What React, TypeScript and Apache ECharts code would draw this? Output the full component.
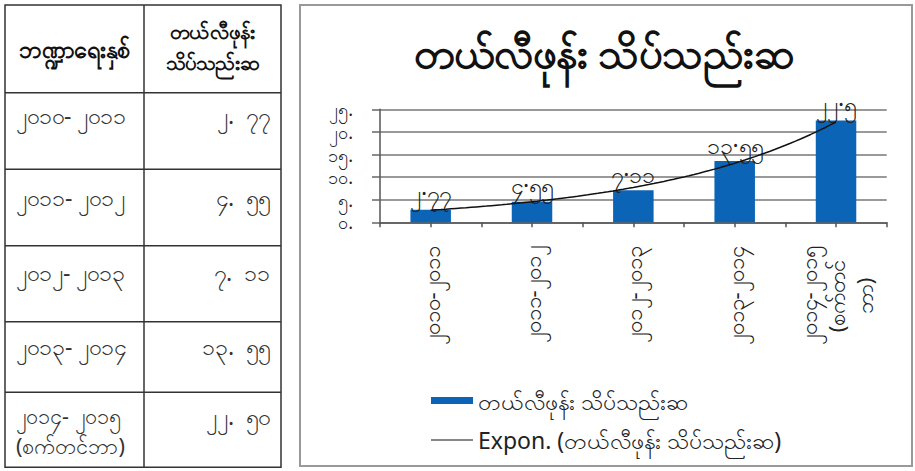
import React, { useEffect, useRef } from "react";
import * as echarts from "echarts";

const categories = [
  "၂၀၁၀-၂၀၁၁",
  "၂၀၁၁-၂၀၁၂",
  "၂၀၁၂-၂၀၁၃",
  "၂၀၁၃-၂၀၁၄",
  "၂၀၁၄-၂၀၁၅\n(စက်တင်ဘာ)",
];
const densityValues = [2.77, 4.55, 7.11, 13.55, 22.5];
const seriesName = "တယ်လီဖုန်း သိပ်သည်းဆ";
const trendName = "Expon. (တယ်လီဖုန်း သိပ်သည်းဆ)";
const chartTitle = "တယ်လီဖုန်း သိပ်သည်းဆ";
const tableHeaders = ["ဘဏ္ဍာရေးနှစ်", "တယ်လီဖုန်း\nသိပ်သည်းဆ"];

const MY_DIGITS = "၀၁၂၃၄၅၆၇၈၉";
const toMy = (s: string) => s.replace(/[0-9]/g, (d) => MY_DIGITS[+d]);

function expFit(vals: number[]) {
  const n = vals.length;
  const xs = vals.map((_, i) => i + 1);
  const ly = vals.map((v) => Math.log(v));
  const mx = xs.reduce((a, b) => a + b, 0) / n;
  const my = ly.reduce((a, b) => a + b, 0) / n;
  let sxy = 0, sxx = 0;
  for (let i = 0; i < n; i++) {
    sxy += (xs[i] - mx) * (ly[i] - my);
    sxx += (xs[i] - mx) * (xs[i] - mx);
  }
  const b = sxy / sxx;
  const a = my - b * mx;
  const pts: number[][] = [];
  for (let k = 0; k <= 80; k++) {
    const x = 1 + ((n - 1) * k) / 80;
    pts.push([x, Math.exp(a + b * x)]);
  }
  return pts;
}

const FONT = "'Noto Sans', sans-serif";

// axis label: Excel wrapped the long month part onto a third, centred line
function axisLabelText(c: string) {
  if (c.indexOf("\n") < 0) return c;
  const [first, second] = c.split("\n");
  const cut = second.indexOf("ဘာ");
  const parts = cut > 0 ? [first, second.slice(0, cut), second.slice(cut)] : [first, second];
  return parts.map((p) => `{c|${p}}`).join("\n");
}

export default function App() {
  const ref = useRef<HTMLDivElement>(null);
  useEffect(() => {
    if (!ref.current) return;
    const chart = echarts.init(ref.current, undefined, { renderer: "svg" });

    const colX = [5, 144, 281];
    const rowY = [5, 92.7, 169.3, 245.7, 321.7, 392.3, 467.3];
    const textY = [114.5, 196.5, 272, 346, 415.5];
    const lineColor = "#333";
    const tableEls: any[] = [];
    tableEls.push({
      type: "rect",
      shape: { x: colX[0], y: rowY[0], width: colX[2] - colX[0], height: rowY[6] - rowY[0] },
      style: { fill: "#fff", stroke: lineColor, lineWidth: 1.5 },
      silent: true,
    });
    tableEls.push({
      type: "line",
      shape: { x1: colX[1], y1: rowY[0], x2: colX[1], y2: rowY[6] },
      style: { stroke: lineColor, lineWidth: 1.5 },
      silent: true,
    });
    for (let i = 1; i < rowY.length - 1; i++) {
      tableEls.push({
        type: "line",
        shape: { x1: colX[0], y1: rowY[i], x2: colX[2], y2: rowY[i] },
        style: { stroke: lineColor, lineWidth: 1.5 },
        silent: true,
      });
    }
    tableEls.push({
      type: "text",
      x: (colX[0] + colX[1]) / 2,
      y: 49,
      style: {
        text: tableHeaders[0],
        fill: "#111",
        font: `bold 23.5px ${FONT}`,
        align: "center",
        verticalAlign: "middle",
      },
    });
    tableEls.push({
      type: "text",
      x: (colX[1] + colX[2]) / 2,
      y: 46,
      style: {
        text: tableHeaders[1],
        fill: "#111",
        font: `bold 20.5px ${FONT}`,
        align: "center",
        verticalAlign: "middle",
        lineHeight: 31,
      },
    });
    categories.forEach((c, i) => {
      const lines = c.split("\n");
      lines.forEach((ln, j) => {
        const small = lines.length > 1;
        tableEls.push({
          type: "text",
          x: 16,
          y: textY[i] + j * 29.5,
          style: {
            text: ln.replace("-", "- "),
            fill: "#333",
            font: `${small ? 21.5 : 23}px ${FONT}`,
            align: "left",
            verticalAlign: "middle",
          },
        });
      });
      tableEls.push({
        type: "text",
        x: 270,
        y: textY[i],
        style: {
          text: toMy(densityValues[i].toFixed(2)).replace(".", ".  "),
          fill: "#333",
          font: `23px ${FONT}`,
          align: "right",
          verticalAlign: "middle",
        },
      });
    });

    const chartBox = {
      type: "rect",
      shape: { x: 300, y: 5, width: 612, height: 461 },
      style: { fill: "#fff", stroke: "#999", lineWidth: 2 },
      silent: true,
      z: -10,
    };

    chart.setOption({
      animation: false,
      backgroundColor: "#fff",
      title: {
        text: chartTitle,
        left: 604,
        top: 51,
        textAlign: "center",
        textVerticalAlign: "middle",
        padding: 0,
        textStyle: { fontFamily: FONT, fontSize: 42, fontWeight: "bold", color: "#111" },
      },
      graphic: [chartBox, ...tableEls],
      legend: {
        orient: "vertical",
        left: 431,
        top: 388.5,
        padding: 0,
        itemWidth: 42,
        itemHeight: 7,
        itemGap: 15.5,
        textStyle: { fontFamily: FONT, fontSize: 23, color: "#222", lineHeight: 24 },
        data: [
          { name: seriesName, icon: "rect" },
          { name: trendName, icon: "path://M0,0H40V1H0Z" },
        ],
      },
      grid: { left: 380, top: 109.3, width: 506.7, height: 113, containLabel: false },
      xAxis: [
        {
          type: "category",
          data: categories,
          position: "bottom",
          axisLine: { lineStyle: { color: "#555", width: 1.5 } },
          axisTick: { show: false },
          axisLabel: {
            rotate: 90,
            margin: 24,
            fontFamily: FONT,
            fontSize: 22,
            color: "#222",
            lineHeight: 28,
            formatter: (v: string) => axisLabelText(v),
            rich: {
              c: {
                fontFamily: FONT,
                fontSize: 22,
                color: "#222",
                lineHeight: 28,
                align: "center",
              },
            },
          },
        },
        {
          type: "value",
          min: 0.5,
          max: 5.5,
          interval: 0.5,
          position: "bottom",
          axisLine: { show: false },
          axisTick: { show: true, length: 5, lineStyle: { color: "#555", width: 1.5 } },
          axisLabel: { show: false },
          splitLine: { show: false },
        },
      ],
      yAxis: {
        type: "value",
        min: 0,
        max: 25,
        interval: 5,
        axisLine: { show: true, lineStyle: { color: "#555", width: 1.5 } },
        axisTick: { show: true, length: 8, lineStyle: { color: "#666", width: 1.5 } },
        splitLine: { lineStyle: { color: "#777", width: 1.5 } },
        axisLabel: {
          margin: 27,
          fontFamily: FONT,
          fontSize: 18,
          lineHeight: 18,
          color: "#222",
          showMinLabel: true,
          showMaxLabel: true,
          hideOverlap: false,
          formatter: (v: number) => toMy(String(v)) + ".",
        },
      },
      series: [
        {
          name: seriesName,
          type: "bar",
          xAxisIndex: 0,
          data: densityValues,
          barWidth: 40.5,
          itemStyle: { color: "#0b64b5" },
          label: {
            show: true,
            position: "top",
            distance: 5,
            fontFamily: FONT,
            fontSize: 23,
            color: "#222",
            formatter: (p: any) => toMy(String(p.value)).replace(".", "·"),
          },
        },
        {
          name: trendName,
          type: "line",
          xAxisIndex: 1,
          data: expFit(densityValues),
          showSymbol: false,
          symbol: "none",
          lineStyle: { color: "#111", width: 1.5 },
          itemStyle: { color: "#111" },
        },
      ],
    });
    return () => chart.dispose();
  }, []);
  return (
    <div
      ref={ref}
      style={{ position: "absolute", left: 0, top: 0, width: 915, height: 471 }}
    />
  );
}
